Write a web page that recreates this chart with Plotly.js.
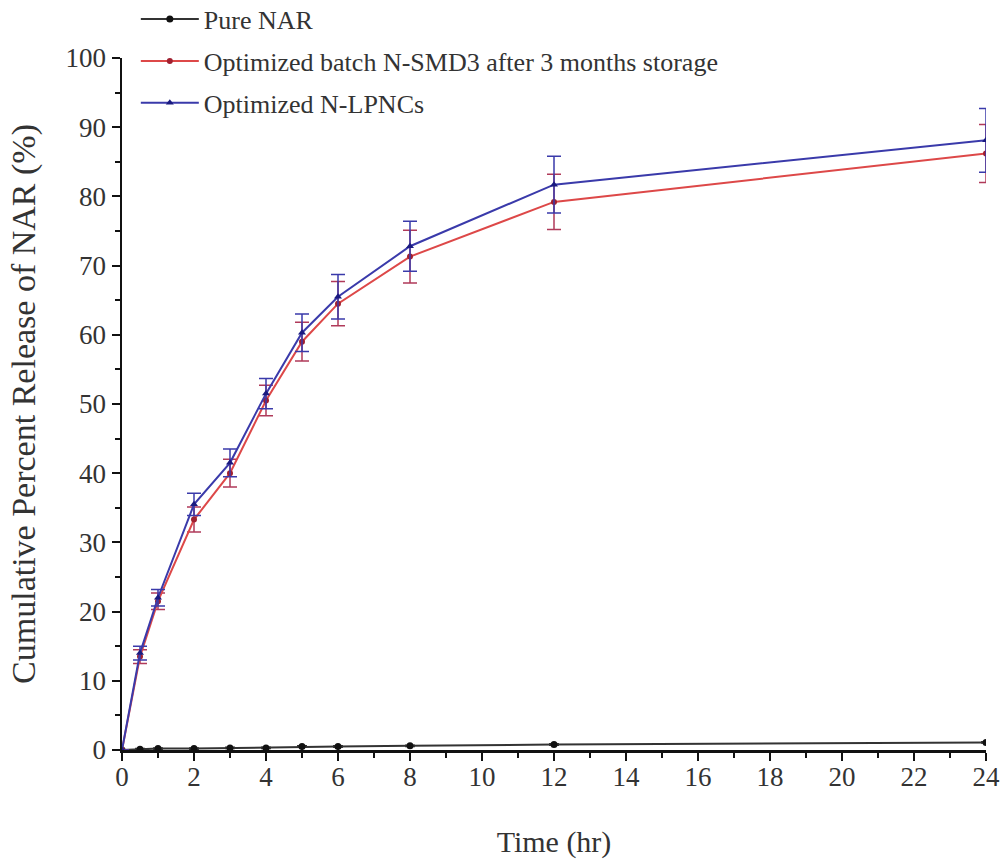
<!DOCTYPE html>
<html>
<head>
<meta charset="utf-8">
<script src="https://cdn.plot.ly/plotly-3.0.1.min.js"></script>
<style>html,body{margin:0;padding:0;background:#fff;}#chart{width:1006px;height:859px;}</style>
</head>
<body>
<div id="chart"></div>
<script>
const timeHr = [0, 0.5, 1, 2, 3, 4, 5, 6, 8, 12, 24];
const pureNAR = [0, 0.1, 0.2, 0.2, 0.3, 0.3, 0.5, 0.5, 0.6, 0.8, 1.1];
const pureNARErr = [0, 0.1, 0.1, 0.1, 0.1, 0.1, 0.1, 0.1, 0.1, 0.1, 0.1];
const smd3Stored = [0, 13.5, 21.5, 33.3, 40.0, 50.5, 59.0, 64.5, 71.3, 79.2, 86.2];
const smd3StoredErr = [0, 1.0, 1.2, 1.8, 2.0, 2.2, 2.8, 3.2, 3.8, 4.0, 4.2];
const lpnc = [0, 14.0, 22.0, 35.5, 41.5, 51.5, 60.3, 65.5, 72.8, 81.7, 88.1];
const lpncErr = [0, 1.0, 1.2, 1.6, 2.0, 2.2, 2.7, 3.2, 3.6, 4.1, 4.6];
const seriesNames = ["Pure NAR", "Optimized batch N-SMD3 after 3 months storage", "Optimized N-LPNCs"];

const fam = "Liberation Serif, Times New Roman, serif";

const traces = [
  {x: timeHr, y: pureNAR, name: seriesNames[0], type: "scatter", mode: "lines+markers",
   line: {color: "#333333", width: 2}, marker: {symbol: "circle", size: 7, color: "#111"},
   error_y: {type: "data", array: pureNARErr, color: "#333", thickness: 1.5, width: 5},
   legendgroup: "g1"},
  {x: timeHr, y: smd3Stored, name: seriesNames[1], type: "scatter", mode: "lines+markers",
   line: {color: "#dd4848", width: 2}, marker: {symbol: "circle", size: 6, color: "#a02030"},
   error_y: {type: "data", array: smd3StoredErr, color: "#b03a5a", thickness: 1.5, width: 7},
   legendgroup: "g2"},
  {x: timeHr, y: lpnc, name: seriesNames[2], type: "scatter", mode: "lines+markers",
   line: {color: "#3a3aaa", width: 2}, marker: {symbol: "triangle-up", size: 7, color: "#1a1a80"},
   error_y: {type: "data", array: lpncErr, color: "#3a3aaa", thickness: 1.5, width: 7},
   legendgroup: "g3"}
];

const layout = {
  width: 1006, height: 859,
  margin: {l: 122, r: 20, t: 58, b: 109, autoexpand: false},
  paper_bgcolor: "#fff", plot_bgcolor: "#fff",
  font: {family: fam, color: "#333", size: 26},
  showlegend: true,
  legend: {x: 0.016, y: 1.09, xanchor: "left", yanchor: "top", bgcolor: "rgba(0,0,0,0)",
           font: {family: fam, size: 26, color: "#333"}, itemwidth: 58, tracegroupgap: 5},
  xaxis: {
    range: [0, 24], tickvals: [0,2,4,6,8,10,12,14,16,18,20,22,24],
    ticks: "outside", ticklen: 8, tickwidth: 2, tickcolor: "#111",
    minor: {dtick: 1, ticks: "outside", ticklen: 5, tickwidth: 2, tickcolor: "#111"},
    showline: true, linecolor: "#111", linewidth: 2.5, showgrid: false, zeroline: false,
    tickfont: {family: fam, size: 27, color: "#333"}, ticklabelstandoff: -7,
    title: {text: "Time (hr)", font: {family: fam, size: 30, color: "#333"}, standoff: 46}
  },
  yaxis: {
    range: [0, 100], dtick: 10,
    ticks: "outside", ticklen: 8, tickwidth: 2, tickcolor: "#111",
    minor: {dtick: 5, ticks: "outside", ticklen: 5, tickwidth: 2, tickcolor: "#111"},
    showline: true, linecolor: "#111", linewidth: 2.5, showgrid: false, zeroline: false,
    tickfont: {family: fam, size: 27, color: "#333"},
    title: {text: "Cumulative Percent Release of NAR (%)", font: {family: fam, size: 34, color: "#333"}, standoff: 20}
  }
};

Plotly.newPlot("chart", traces, layout, {displayModeBar: false, staticPlot: true});
</script>
</body>
</html>
